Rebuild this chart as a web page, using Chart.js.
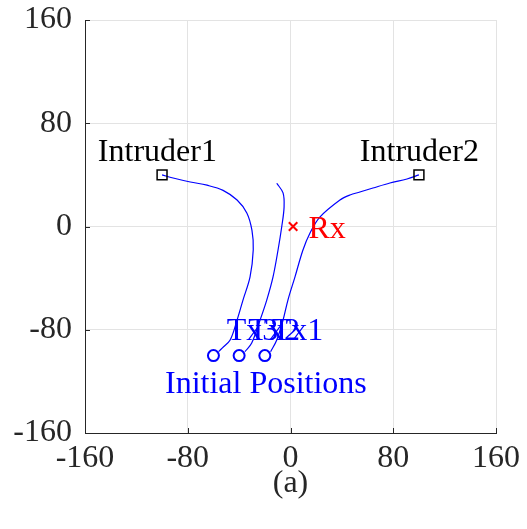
<!DOCTYPE html>
<html>
<head>
<meta charset="utf-8">
<script src="https://cdn.jsdelivr.net/npm/chart.js@4/dist/chart.umd.min.js"></script>
<style>
  html, body { margin: 0; padding: 0; background: #ffffff; }
</style>
</head>
<body>
<canvas id="c" width="527" height="529"></canvas>
<script>
// Axis ticks (both axes share the same range)
const tickValues = [-160, -80, 0, 80, 160];

// Receiver and intruder positions
const rxPos = [{ x: 2, y: 0 }];
const intruderPos = [{ x: -100, y: 40 }, { x: 100, y: 40 }];

// Initial transmitter positions
const initialPos = [{ x: -60, y: -100 }, { x: -40, y: -100 }, { x: -20, y: -100 }];

// Transmitter trajectories
const pathTx3 = [
  { x: -56, y: -97 }, { x: -53, y: -94 }, { x: -47, y: -88 }, { x: -41.6, y: -72.5 },
  { x: -37, y: -57 }, { x: -31.5, y: -39 }, { x: -29, y: -18 }, { x: -30, y: -3 },
  { x: -34, y: 10.5 }, { x: -41.6, y: 20.5 }, { x: -52.5, y: 28 }, { x: -65, y: 32 },
  { x: -78, y: 34.5 }, { x: -91.4, y: 37.6 }, { x: -100, y: 40 }
];
const pathTx2 = [
  { x: -35.5, y: -97 }, { x: -30.2, y: -90.3 }, { x: -23.7, y: -72.5 }, { x: -18.5, y: -57 },
  { x: -13.6, y: -39 }, { x: -9.7, y: -18.2 }, { x: -6.8, y: 0 }, { x: -5, y: 15 },
  { x: -5.8, y: 26 }, { x: -10.7, y: 33.5 }
];
const pathTx1 = [
  { x: -15.5, y: -97 }, { x: -10.7, y: -88 }, { x: -5.8, y: -72.5 }, { x: -2, y: -57 },
  { x: 3.5, y: -39 }, { x: 9.7, y: -18.2 }, { x: 15.2, y: -5 }, { x: 23, y: 7.4 },
  { x: 38.5, y: 20.5 }, { x: 46.3, y: 24.4 }, { x: 54, y: 26.7 }, { x: 64.2, y: 29.8 },
  { x: 77.4, y: 33.7 }, { x: 90.7, y: 36.8 }, { x: 100, y: 40 }
];

// Text annotations: [text, x, y (baseline), colour]
const annotations = [
  ['Intruder1', -150, 51, '#000000'],
  ['Intruder2', 54, 51, '#000000'],
  ['Rx', 14, -9, '#ff0000'],
  ['Tx3', -49.6, -88, '#0000ff'],
  ['Tx2', -32.8, -88, '#0000ff'],
  ['Tx1', -14.6, -88, '#0000ff'],
  ['Initial Positions', -97.7, -129.3, '#0000ff']
];

const FONT = 'Liberation Serif';
const FONT_SIZE = 32;
const AXIS_COLOR = '#262626';
const GRID_COLOR = '#e3e3e3';

function pathDataset(data) {
  return {
    data, showLine: true, borderColor: '#0000ff', borderWidth: 1.2,
    pointRadius: 0, tension: 0.35, fill: false, order: 3
  };
}

const overlayPlugin = {
  id: 'overlay',
  afterDraw(chart) {
    const { ctx, chartArea, scales: { x, y } } = chart;
    ctx.save();
    // inward tick marks on the left and bottom axes
    ctx.strokeStyle = AXIS_COLOR;
    ctx.lineWidth = 1;
    const len = 5;
    tickValues.forEach(v => {
      const px = Math.round(x.getPixelForValue(v)) + 0.5;
      ctx.beginPath();
      ctx.moveTo(px, chartArea.bottom);
      ctx.lineTo(px, chartArea.bottom - len);
      ctx.stroke();
      const py = Math.round(y.getPixelForValue(v)) + 0.5;
      ctx.beginPath();
      ctx.moveTo(chartArea.left, py);
      ctx.lineTo(chartArea.left + len, py);
      ctx.stroke();
    });
    // text labels
    ctx.font = FONT_SIZE + 'px "' + FONT + '"';
    ctx.textAlign = 'left';
    ctx.textBaseline = 'alphabetic';
    annotations.forEach(([t, ax, ay, col]) => {
      ctx.fillStyle = col;
      ctx.fillText(t, x.getPixelForValue(ax), y.getPixelForValue(ay));
    });
    ctx.restore();
  }
};

new Chart(document.getElementById('c'), {
  type: 'scatter',
  data: {
    datasets: [
      pathDataset(pathTx3),
      pathDataset(pathTx2),
      pathDataset(pathTx1),
      {
        data: intruderPos, pointStyle: 'rect', pointRadius: 7, borderColor: '#000000',
        backgroundColor: 'rgba(0,0,0,0)', borderWidth: 1.5, order: 1
      },
      {
        data: initialPos, pointStyle: 'circle', pointRadius: 5.5, borderColor: '#0000ff',
        backgroundColor: 'rgba(0,0,0,0)', borderWidth: 2, order: 1
      },
      {
        data: rxPos, pointStyle: 'crossRot', pointRadius: 6, borderColor: '#ff0000',
        borderWidth: 2, order: 1
      }
    ]
  },
  options: {
    responsive: false,
    animation: false,
    events: [],
    layout: { padding: { top: 20, right: 31, left: 0, bottom: 0 } },
    plugins: { legend: { display: false }, tooltip: { enabled: false } },
    scales: {
      x: {
        type: 'linear', min: -160, max: 160,
        afterBuildTicks: s => { s.ticks = tickValues.map(v => ({ value: v })); },
        afterFit: s => { s.height = 96; s.paddingLeft = 0; s.paddingRight = 0; },
        grid: { color: GRID_COLOR, lineWidth: 1, drawTicks: false },
        border: { color: AXIS_COLOR, width: 1 },
        ticks: {
          padding: 6, color: AXIS_COLOR, maxRotation: 0,
          font: { family: FONT, size: FONT_SIZE }
        },
        title: {
          display: true, text: '(a)', color: AXIS_COLOR,
          font: { family: FONT, size: FONT_SIZE }, padding: { top: 0, bottom: 26 }
        }
      },
      y: {
        type: 'linear', min: -160, max: 160,
        afterBuildTicks: s => { s.ticks = tickValues.map(v => ({ value: v })); },
        afterFit: s => { s.width = 85; s.paddingTop = 0; s.paddingBottom = 0; },
        grid: { color: GRID_COLOR, lineWidth: 1, drawTicks: false },
        border: { color: AXIS_COLOR, width: 1 },
        ticks: {
          padding: 13, color: AXIS_COLOR,
          font: { family: FONT, size: FONT_SIZE }
        }
      }
    }
  },
  plugins: [overlayPlugin]
});
</script>
</body>
</html>
